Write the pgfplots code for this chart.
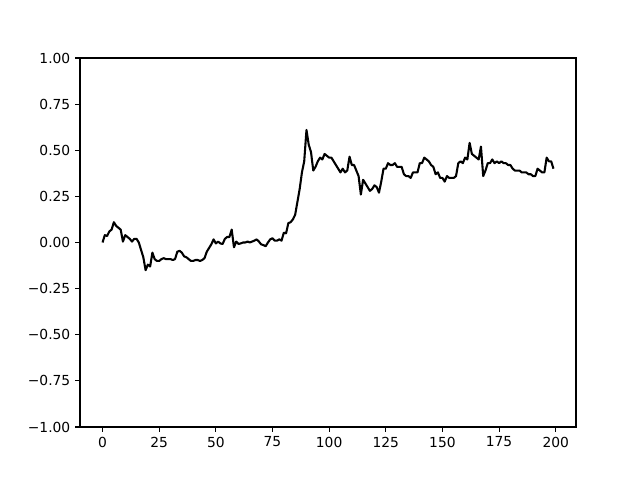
\documentclass[border=0pt]{standalone}
\usepackage{fontspec}
\setmainfont{DejaVu Sans}
\usepackage{pgfplots}
\pgfplotsset{compat=1.18}
\pgfplotstableread{
x y
0 0.00
1 0.04
2 0.035
3 0.06
4 0.07
5 0.11
6 0.09
7 0.08
8 0.07
9 0.005
10 0.04
11 0.03
12 0.02
13 0.005
14 0.02
15 0.02
16 0.00
17 -0.04
18 -0.08
19 -0.15
20 -0.12
21 -0.13
22 -0.055
23 -0.09
24 -0.10
25 -0.10
26 -0.09
27 -0.085
28 -0.09
29 -0.09
30 -0.09
31 -0.095
32 -0.09
33 -0.05
34 -0.045
35 -0.055
36 -0.075
37 -0.08
38 -0.09
39 -0.10
40 -0.10
41 -0.095
42 -0.095
43 -0.10
44 -0.095
45 -0.085
46 -0.05
47 -0.03
48 -0.01
49 0.017
50 -0.005
51 0.005
52 -0.005
53 -0.008
54 0.02
55 0.03
56 0.03
57 0.07
58 -0.026
59 0.005
60 -0.008
61 -0.005
62 0.00
63 0.00
64 0.005
65 0.00
66 0.005
67 0.01
68 0.017
69 0.005
70 -0.01
71 -0.014
72 -0.02
73 0.00
74 0.017
75 0.023
76 0.01
77 0.01
78 0.017
79 0.01
80 0.053
81 0.05
82 0.105
83 0.11
84 0.125
85 0.15
86 0.22
87 0.29
88 0.38
89 0.44
90 0.61
91 0.53
92 0.49
93 0.39
94 0.41
95 0.44
96 0.46
97 0.45
98 0.48
99 0.47
100 0.46
101 0.46
102 0.44
103 0.42
104 0.40
105 0.38
106 0.40
107 0.38
108 0.39
109 0.465
110 0.42
111 0.42
112 0.39
113 0.36
114 0.26
115 0.34
116 0.32
117 0.30
118 0.28
119 0.29
120 0.31
121 0.30
122 0.27
123 0.33
124 0.40
125 0.40
126 0.43
127 0.42
128 0.42
129 0.43
130 0.41
131 0.41
132 0.41
133 0.37
134 0.36
135 0.36
136 0.35
137 0.38
138 0.38
139 0.38
140 0.43
141 0.43
142 0.46
143 0.45
144 0.44
145 0.42
146 0.41
147 0.37
148 0.38
149 0.35
150 0.35
151 0.33
152 0.36
153 0.35
154 0.35
155 0.35
156 0.36
157 0.43
158 0.44
159 0.43
160 0.46
161 0.45
162 0.54
163 0.48
164 0.47
165 0.46
166 0.45
167 0.52
168 0.36
169 0.39
170 0.43
171 0.43
172 0.45
173 0.43
174 0.44
175 0.43
176 0.44
177 0.43
178 0.43
179 0.42
180 0.42
181 0.40
182 0.39
183 0.39
184 0.39
185 0.38
186 0.38
187 0.38
188 0.37
189 0.37
190 0.36
191 0.36
192 0.40
193 0.39
194 0.38
195 0.38
196 0.46
197 0.44
198 0.44
199 0.40
}\series
\begin{document}
\begin{tikzpicture}
\begin{axis}[
  scale only axis,
  width=4.96in, height=3.69in,
  xmin=-9.95, xmax=208.95,
  ymin=-1, ymax=1,
  xtick={0,25,...,200},
  ytick={-1,-0.75,-0.5,-0.25,0,0.25,0.5,0.75,1},
  yticklabels={−1.00,−0.75,−0.50,−0.25,0.00,0.25,0.50,0.75,1.00},
  /pgf/number format/assume math mode=true,
  tick label style={font=\fontsize{10}{12}\selectfont},
  tick align=outside,
  major tick length=3.5pt,
  tick style={line width=0.8pt, black},
  axis line style={line width=0.8pt},
  xtick pos=bottom, ytick pos=left,
  clip=false,
]
\addplot[black, line width=1.5pt, line join=round, no marks] table[x=x, y=y] {\series};
\coordinate (sw) at (rel axis cs:0,0);
\coordinate (ne) at (rel axis cs:1,1);
\end{axis}
\useasboundingbox ([shift={(-0.8in,-0.53in)}]sw) rectangle ([shift={(0.64in,0.58in)}]ne);
\end{tikzpicture}
\end{document}
